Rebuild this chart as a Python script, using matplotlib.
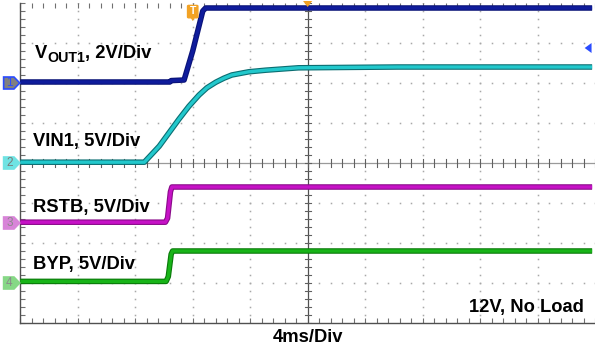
import numpy as np
import matplotlib.pyplot as plt
from matplotlib.patches import Polygon, FancyBboxPatch

plt.rcParams['font.family'] = ['Liberation Sans', 'DejaVu Sans']

# time in ms (screen centre = 0), 4 ms/div
ms_per_div = 4.0

# VOUT1, 2 V/div, ground at division 6
vout_t = [-20.0, -9.6, -9.5, -8.6, -8.0, -7.3, -7.1, 19.8]
vout_v = [0.05, 0.05, 0.12, 0.15, 1.6, 3.6, 3.75, 3.75]

# VIN1, 5 V/div, ground at division 4
vin_t = [-20.0, -11.37, -10.33, -8.95, -8.26, -7.56, -7.01, -6.39, -5.83,
         -5.28, -4.10, -2.93, -0.64, 6.28, 19.8]
vin_v = [0.1, 0.1, 2.1, 5.5, 7.1, 8.5, 9.4, 10.1, 10.6,
         11.0, 11.4, 11.6, 11.9, 12.0, 12.0]

# RSTB, 5 V/div, ground at division 2.5
rstb_t = [-20.0, -9.9, -9.75, -9.55, -9.45, 19.8]
rstb_v = [0.1, 0.1, 0.6, 3.9, 4.5, 4.5]

# BYP, 5 V/div, ground at division 1
byp_t = [-20.0, -9.85, -9.7, -9.5, -9.4, 19.8]
byp_v = [0.2, 0.2, 0.8, 3.6, 4.0, 4.0]

channels = [
    # label, t, v, V/div, ground div, colour, edge colour, marker fill, marker edge, marker text
    ("1", vout_t, vout_v, 2.0, 6.0, "#0f1c9c", "#0a1378", "#808080", "#2a4cff", "#2a4cff"),
    ("2", vin_t, vin_v, 5.0, 4.0, "#22c8cc", "#0b6e72", "#6fe3e3", "#6fe3e3", "#7a7a7a"),
    ("3", rstb_t, rstb_v, 5.0, 2.5, "#c612c6", "#8a0a8a", "#d884d8", "#d884d8", "#8a8a8a"),
    ("4", byp_t, byp_v, 5.0, 1.0, "#18b418", "#0a7a0a", "#86d886", "#86d886", "#8a8a8a"),
]

fig = plt.figure(figsize=(5.95, 3.49), dpi=100)
ax = fig.add_axes([20.3 / 595, 26 / 349, (595 - 20.3) / 595, 320 / 349])
ax.set_xlim(0, (595 - 20.3) / 57.8)
ax.set_ylim(0, 8)

# dotted graticule
dot = dict(ls="none", marker="s", ms=1.1, mew=0, color="#a8a8a8", zorder=1)
ys = np.arange(0, 8.01, 0.2)
xs = np.arange(0, 10.01, 0.2)
for k in range(1, 10):
    if k != 5:
        ax.plot(np.full_like(ys, k), ys, **dot)
for j in range(1, 8):
    if j != 4:
        ax.plot(xs, np.full_like(xs, j), **dot)

# centre cross with small ticks
ax.axvline(5, color="#505050", lw=0.9, zorder=2)
ax.axhline(4, color="#9a9a9a", lw=0.9, zorder=2)
for y in ys:
    ax.plot([4.95, 5.05], [y, y], color="#606060", lw=0.8, zorder=2)
for x in xs:
    ax.plot([x, x], [3.9, 4.1], color="#606060", lw=0.8, zorder=2)

for s in ["top", "right"]:
    ax.spines[s].set_visible(False)
for s in ["left", "bottom"]:
    ax.spines[s].set_color("#505050")
    ax.spines[s].set_linewidth(1.0)
ax.set_xticks(np.arange(0, 10.01, 1))
ax.set_xticks(xs, minor=True)
ax.set_yticks(np.arange(0, 8.01, 1))
ax.set_yticks(ys, minor=True)
ax.tick_params(which="both", direction="in", length=3.5, width=0.8, color="#707070",
               top=True, right=False, labelleft=False, labelbottom=False)

# traces
for lab, t, v, vdiv, gnd, col, ecol, mfill, medge, mtxt in channels:
    x = 5 + np.array(t) / ms_per_div
    y = gnd + np.array(v) / vdiv
    ax.plot(x, y, color=ecol, lw=4.0, solid_capstyle="butt", solid_joinstyle="round", zorder=4)
    ax.plot(x, y, color=col, lw=2.4, solid_capstyle="butt", solid_joinstyle="round", zorder=5)

    # channel ground marker on the left
    h = 0.15
    x0, x1, x2 = -0.29, -0.11, -0.01
    poly = Polygon([(x0, gnd - h), (x1, gnd - h), (x2, gnd), (x1, gnd + h), (x0, gnd + h)],
                   closed=True, facecolor=mfill, edgecolor=medge, lw=1.2,
                   clip_on=False, zorder=6)
    ax.add_patch(poly)
    ax.text(-0.19, gnd - 0.01, lab, ha="center", va="center", fontsize=8.5,
            color=mtxt, clip_on=False, zorder=7)

# trigger markers
tb = FancyBboxPatch((2.93, 7.65), 0.14, 0.27, boxstyle="round,pad=0.02",
                    facecolor="#f2a224", edgecolor="#f2a224", clip_on=False, zorder=7)
ax.add_patch(tb)
ax.add_patch(Polygon([(2.96, 7.64), (3.04, 7.64), (3.0, 7.55)], closed=True,
                     facecolor="#f2a224", edgecolor="none", zorder=7))
ax.text(3.0, 7.79, "T", ha="center", va="center", fontsize=7.5, color="white",
        fontweight="bold", zorder=8)
ax.add_patch(Polygon([(4.92, 8.05), (5.08, 8.05), (5.0, 7.9)], closed=True,
                     facecolor="#f2a224", edgecolor="none", clip_on=False, zorder=7))
ax.add_patch(Polygon([(9.94, 6.75), (9.94, 7.0), (9.82, 6.875)], closed=True,
                     facecolor="#2a4cff", edgecolor="none", clip_on=False, zorder=7))

# annotations
fs = 13.2
txt = dict(fontsize=fs, fontweight="bold", color="black", va="baseline", zorder=9)
yv = 6.625
t1 = ax.text(0.25, yv, "V", **txt)
t2 = ax.annotate("OUT1", xy=(1.0, yv), xycoords=(t1, "data"), xytext=(0.2, -2.6),
                 textcoords="offset points", fontsize=10.3, fontweight="bold",
                 va="baseline", zorder=9)
ax.annotate(", 2V/Div", xy=(1.0, yv), xycoords=(t2, "data"), fontsize=fs,
            fontweight="bold", va="baseline", zorder=9)
ax.text(0.22, 4.425, "VIN1, 5V/Div", **txt)
ax.text(0.22, 2.775, "RSTB, 5V/Div", **txt)
ax.text(0.22, 1.35, "BYP, 5V/Div", **txt)
ax.text(9.80, 0.275, "12V, No Load", ha="right", **txt)
ax.text(5.0, -0.475, "4ms/Div", ha="center", clip_on=False, **txt)

fig.savefig("out.png", dpi=100)
